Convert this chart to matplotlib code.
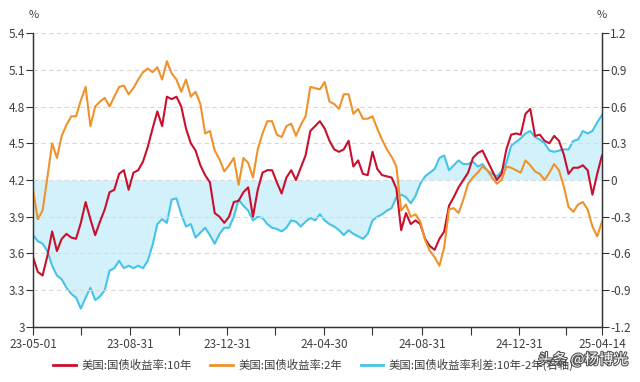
import numpy as np
import pandas as pd
import matplotlib
matplotlib.use("Agg")
import matplotlib.pyplot as plt
import matplotlib.patheffects as pe
from matplotlib.lines import Line2D

plt.rcParams['font.family'] = ['Noto Sans CJK SC', 'DejaVu Sans']

# 数据 (读图估计, 每6天一个点)
dates = pd.date_range('2023-05-01', '2025-04-14', freq='6D')

y10 = [3.57, 3.45, 3.42, 3.58, 3.78, 3.62, 3.72, 3.76, 3.73, 3.72,
       3.85, 4.02, 3.88, 3.75, 3.86, 3.96, 4.10, 4.12, 4.25, 4.28,
       4.12, 4.26, 4.28, 4.35, 4.47, 4.62, 4.76, 4.64, 4.88, 4.86,
       4.88, 4.80, 4.62, 4.50, 4.44, 4.32, 4.24, 4.18, 3.93, 3.90,
       3.85, 3.90, 4.02, 4.03, 4.10, 4.14, 3.90, 4.12, 4.26, 4.28,
       4.28, 4.18, 4.09, 4.22, 4.28, 4.20, 4.30, 4.40, 4.60, 4.64,
       4.68, 4.62, 4.52, 4.45, 4.43, 4.45, 4.52, 4.31, 4.36, 4.25,
       4.24, 4.43, 4.29, 4.24, 4.23, 4.22, 4.13, 3.79, 3.93, 3.84,
       3.87, 3.84, 3.72, 3.66, 3.63, 3.72, 3.78, 3.99, 4.06, 4.14,
       4.20, 4.26, 4.38, 4.42, 4.44, 4.36, 4.28, 4.20, 4.25, 4.45,
       4.57, 4.58, 4.57, 4.74, 4.78, 4.56, 4.57, 4.52, 4.50, 4.56,
       4.52, 4.41, 4.25, 4.30, 4.30, 4.32, 4.28, 4.08, 4.25, 4.40]

y2 = [4.12, 3.88, 3.95, 4.22, 4.50, 4.38, 4.56, 4.65, 4.72, 4.72,
      4.85, 4.96, 4.64, 4.80, 4.84, 4.87, 4.80, 4.88, 4.96, 4.97,
      4.90, 4.95, 5.02, 5.08, 5.11, 5.08, 5.12, 5.02, 5.17, 5.07,
      5.02, 4.92, 5.02, 4.88, 4.92, 4.82, 4.58, 4.60, 4.44, 4.37,
      4.27, 4.32, 4.38, 4.16, 4.38, 4.34, 4.22, 4.45, 4.58, 4.68,
      4.68, 4.57, 4.55, 4.64, 4.66, 4.56, 4.65, 4.72, 4.96, 4.95,
      4.94, 5.00, 4.84, 4.82, 4.78, 4.90, 4.90, 4.74, 4.78, 4.70,
      4.70, 4.72, 4.62, 4.53, 4.45, 4.39, 4.31, 3.95, 4.00, 3.90,
      3.92, 3.86, 3.71, 3.62, 3.57, 3.50, 3.65, 3.96, 3.97, 3.93,
      4.04, 4.17, 4.22, 4.26, 4.31, 4.28, 4.22, 4.17, 4.20, 4.31,
      4.30, 4.28, 4.26, 4.36, 4.32, 4.27, 4.25, 4.20, 4.26, 4.33,
      4.28, 4.15, 3.98, 3.94, 4.00, 4.02, 3.96, 3.82, 3.74, 3.86]

spread = [-0.45, -0.50, -0.52, -0.58, -0.70, -0.78, -0.81, -0.88, -0.93, -0.96,
          -1.05, -0.96, -0.88, -0.98, -0.95, -0.90, -0.74, -0.72, -0.66, -0.72,
          -0.70, -0.72, -0.70, -0.72, -0.66, -0.53, -0.36, -0.32, -0.35, -0.16,
          -0.15, -0.28, -0.38, -0.36, -0.47, -0.43, -0.39, -0.45, -0.52, -0.44,
          -0.39, -0.39, -0.30, -0.16, -0.21, -0.25, -0.33, -0.30, -0.31, -0.36,
          -0.39, -0.40, -0.42, -0.39, -0.33, -0.34, -0.38, -0.34, -0.31, -0.33,
          -0.28, -0.33, -0.36, -0.38, -0.41, -0.45, -0.41, -0.44, -0.46, -0.48,
          -0.44, -0.33, -0.30, -0.28, -0.25, -0.23, -0.14, -0.12, -0.14, -0.19,
          -0.13, -0.03, 0.03, 0.06, 0.09, 0.18, 0.20, 0.08, 0.12, 0.16,
          0.13, 0.13, 0.15, 0.11, 0.13, 0.08, 0.05, 0.03, 0.07, 0.14,
          0.28, 0.31, 0.34, 0.38, 0.40, 0.35, 0.33, 0.30, 0.24, 0.23,
          0.24, 0.25, 0.25, 0.32, 0.33, 0.40, 0.38, 0.40, 0.47, 0.53]

tick_dates = ['2023-05-01', '2023-06-30', '2023-08-31', '2023-10-31', '2023-12-31',
              '2024-02-29', '2024-04-30', '2024-06-30', '2024-08-31', '2024-10-31',
              '2024-12-31', '2025-02-28', '2025-04-14']
tick_labels = ['23-05-01', '', '23-08-31', '', '23-12-31', '', '24-04-30', '',
               '24-08-31', '', '24-12-31', '', '25-04-14']

left_ticks = [3.0, 3.3, 3.6, 3.9, 4.2, 4.5, 4.8, 5.1, 5.4]
left_labels = ['3', '3.3', '3.6', '3.9', '4.2', '4.5', '4.8', '5.1', '5.4']
right_ticks = [-1.2, -0.9, -0.6, -0.3, 0, 0.3, 0.6, 0.9, 1.2]
right_labels = ['-1.2', '-0.9', '-0.6', '-0.3', '0', '0.3', '0.6', '0.9', '1.2']

names = ['美国:国债收益率:10年', '美国:国债收益率:2年', '美国:国债收益率利差:10年-2年(右轴)']

c_red = '#c8102e'
c_org = '#f0922b'
c_cyan = '#45c3e8'
c_fill = '#d3f1fa'
c_txt = '#404040'

fig = plt.figure(figsize=(6.4, 3.82), dpi=100)
ax = fig.add_axes([0.0516, 0.144, 0.889, 0.7696])
ax2 = ax.twinx()

# 利差放在右轴, 画在下层
ax2.fill_between(dates, spread, 0, color=c_fill, lw=0)
ax2.plot(dates, spread, color=c_cyan, lw=1.5)
ax.set_zorder(ax2.get_zorder() + 1)
ax.patch.set_visible(False)

ax.plot(dates, y10, color=c_red, lw=1.5)
ax.plot(dates, y2, color=c_org, lw=1.5)

ax.set_ylim(3.0, 5.4)
ax2.set_ylim(-1.2, 1.2)
ax.set_xlim(pd.Timestamp('2023-05-01'), pd.Timestamp('2025-04-14'))

ax.set_yticks(left_ticks)
ax.set_yticklabels(left_labels)
ax2.set_yticks(right_ticks)
ax2.set_yticklabels(right_labels)
ax.set_xticks(pd.to_datetime(tick_dates))
ax.set_xticklabels(tick_labels)

ax.grid(axis='y', ls=(0, (4, 3)), color='#d9d9d9', lw=0.8)
for a in (ax, ax2):
    a.spines['top'].set_visible(False)
    for s in ('left', 'right', 'bottom'):
        a.spines[s].set_color('#333333')
        a.spines[s].set_linewidth(0.9)
    a.tick_params(axis='y', length=5, width=0.8, color='#333333',
                  labelsize=8.5, labelcolor=c_txt, pad=1)
ax.tick_params(axis='x', length=6, width=0.8, color='#333333',
               labelsize=8.5, labelcolor=c_txt, pad=2)

fig.text(0.052, 0.962, '%', ha='center', va='center', fontsize=8, color=c_txt)
fig.text(0.940, 0.962, '%', ha='center', va='center', fontsize=8, color=c_txt)

# 图例
handles = [Line2D([], [], color=c, lw=2) for c in (c_red, c_org, c_cyan)]
fig.legend(handles, names, loc='center', bbox_to_anchor=(0.49, 0.045), ncol=3,
           frameon=False, fontsize=8.2, handlelength=2.0, handletextpad=0.5,
           columnspacing=1.6, labelcolor=c_txt)

# 水印
fig.text(0.982, 0.058, '头条 @杨博光', ha='right', va='center', fontsize=10.5,
         color='white',
         path_effects=[pe.withStroke(linewidth=1.6, foreground='#555555')])

fig.savefig('out.png', dpi=100)
